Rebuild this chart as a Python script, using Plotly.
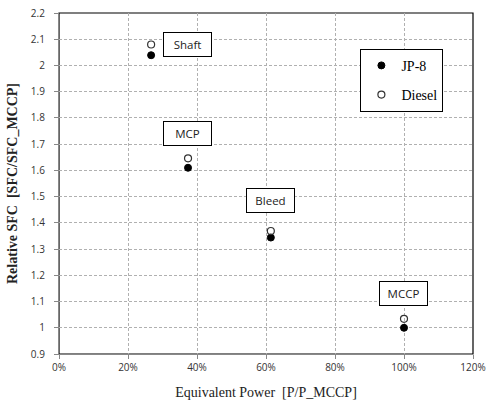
import plotly.graph_objects as go

categories = ["Shaft", "MCP", "Bleed", "MCCP"]
power = [0.267, 0.374, 0.614, 1.0]
jp8_sfc = [2.039, 1.61, 1.344, 1.0]
diesel_sfc = [2.08, 1.646, 1.369, 1.034]
label_x = [0.373, 0.372, 0.612, 0.998]
label_y = [2.079, 1.742, 1.487, 1.132]

fig = go.Figure()
fig.add_trace(go.Scatter(x=power, y=jp8_sfc, mode="markers", name="JP-8", legendgroup="a",
                         marker=dict(symbol="circle", size=7, color="black",
                                     line=dict(color="black", width=1))))
fig.add_trace(go.Scatter(x=power, y=diesel_sfc, mode="markers", name="Diesel", legendgroup="b",
                         marker=dict(symbol="circle-open", size=7, color="#333333",
                                     line=dict(width=1.2))))

for name, lx, ly in zip(categories, label_x, label_y):
    fig.add_annotation(x=lx, y=ly, text=name, showarrow=False,
                       font=dict(family="Open Sans", size=11.5, color="#222"),
                       bgcolor="white", bordercolor="black", borderwidth=1,
                       width=45, height=21, borderpad=1)

fig.add_shape(type="rect", xref="paper", yref="paper", x0=0, y0=0, x1=1, y1=1,
              line=dict(color="black", width=1.2), layer="below")

grid = dict(showgrid=True, gridcolor="#b0b0b0", griddash="3px,2px", gridwidth=1,
            showline=True, linecolor="#888888", linewidth=1.2,
            ticks="outside", ticklen=4, tickcolor="#888888",
            tickfont=dict(family="Open Sans", size=10, color="#333"),
            zeroline=False, automargin=False)

fig.update_layout(
    width=487, height=411,
    margin=dict(l=59, r=14, t=13, b=57, autoexpand=False),
    paper_bgcolor="white", plot_bgcolor="white",
    showlegend=True,
    legend=dict(x=0.728, y=0.895, xanchor="left", yanchor="top",
                bordercolor="black", borderwidth=1, bgcolor="white",
                font=dict(family="Liberation Serif", size=14, color="black"),
                itemsizing="trace", tracegroupgap=8, itemwidth=30),
    xaxis=dict(range=[0, 1.2], dtick=0.2, tickformat=".0%",
               title=dict(text="Equivalent Power  [P/P_MCCP]", standoff=14,
                          font=dict(family="Liberation Serif", size=14, color="#222")),
               **grid),
    yaxis=dict(range=[0.9, 2.2], dtick=0.1, ticklabelstandoff=7,
               title=dict(text="<b>Relative SFC  [SFC/SFC_MCCP]</b>", standoff=9,
                          font=dict(family="Liberation Serif", size=14, color="#222")),
               **grid),
)

fig.write_html("out.html", config={"displayModeBar": False},
               post_script="document.body.style.margin='0';document.body.style.overflow='hidden';")
